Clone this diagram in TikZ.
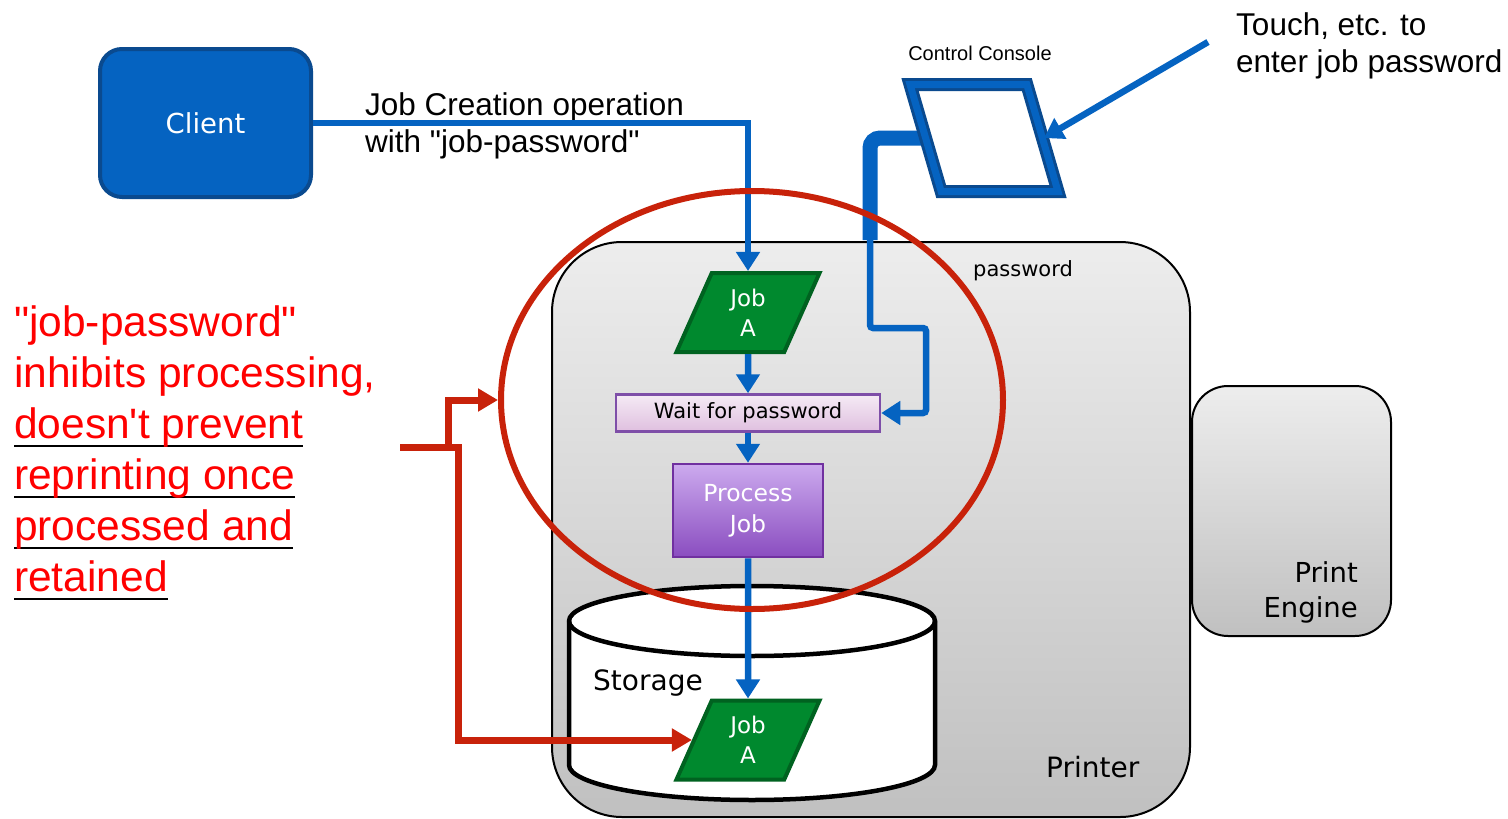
\documentclass[tikz,border=0pt]{standalone}
\usepackage{fontspec}
\usetikzlibrary{arrows.meta,shapes.geometric}
\setmainfont{Liberation Sans}[Ligatures=TeXOff]
\newfontfamily\verd{DejaVu Sans}
\newcommand\verdsize[2]{\verd\fontsize{#1}{#2}\selectfont}
\definecolor{linkblue}{RGB}{5,99,193}
\definecolor{darkblue}{RGB}{10,74,143}
\definecolor{jobgreen}{RGB}{0,137,46}
\definecolor{jobedge}{RGB}{0,98,32}
\definecolor{waitedge}{RGB}{126,78,168}
\definecolor{procedge}{RGB}{112,48,160}
\definecolor{ringred}{RGB}{200,34,10}
\definecolor{greytop}{RGB}{237,237,237}
\definecolor{greybot}{RGB}{192,192,192}
\newcommand\blkul[1]{\setbox0\hbox{#1}\leavevmode\rlap{\color{black}\rule[-9pt]{\wd0}{2.5pt}}\box0}
\begin{document}
\begin{tikzpicture}[x=1pt, y=-1pt,
    bluearrow/.style={draw=linkblue, line width=6.5pt, -{Triangle[length=19pt,width=23pt]}},
    redarrow/.style={draw=ringred, line width=7pt, -{Triangle[length=20pt,width=22pt]}},
    greyblock/.style={draw=black, line width=2pt, rounded corners=#1, top color=greytop, bottom color=greybot},
    clientbox/.style={draw=darkblue, line width=4pt, fill=linkblue, rounded corners=22pt,
        minimum width=211pt, minimum height=148pt, text=white, font=\verdsize{27.5}{33}},
    jobbox/.style={trapezium, trapezium left angle=70, trapezium right angle=110, trapezium stretches=true,
        minimum width=144pt, minimum height=79pt, inner sep=0pt, fill=jobgreen, draw=jobedge, line width=4pt,
        text=white, align=center, font=\verdsize{23}{30}},
    consolebox/.style={trapezium, trapezium left angle=110, trapezium right angle=70, trapezium stretches=true,
        minimum width=148pt, minimum height=107pt, draw=darkblue, double=linkblue, double distance=7pt,
        line width=3pt, fill=white},
    waitbox/.style={draw=waitedge, line width=2.5pt, top color=violet!8, bottom color=violet!25,
        minimum width=264pt, minimum height=37pt, font=\verdsize{21}{25}},
    procbox/.style={draw=procedge, line width=2.5pt, top color={rgb,255:red,204;green,170;blue,238},
        bottom color={rgb,255:red,138;green,77;blue,192}, minimum width=150pt, minimum height=93pt,
        text=white, align=center, font=\verdsize{23.5}{31}},
    labeltext/.style={inner sep=0pt, align=left, font=\fontsize{31.5}{37}\selectfont},
    redtext/.style={inner sep=0pt, align=left, text=red, font=\fontsize{42.5}{51}\selectfont}]
    \fill[white] (0,0) rectangle (1508,819);
    \useasboundingbox (0,0) rectangle (1508,819);

    % printer and engine
    \node[greyblock=70pt, minimum width=638pt, minimum height=575pt] (printer) at (871,529.5) {};
    \node[greyblock=36pt, minimum width=199pt, minimum height=250pt] (engine) at (1291.5,511) {};
    \node[inner sep=0pt, anchor=base west, font=\verdsize{28}{34}] (printerlabel) at (1046,777) {Printer};
    \node[inner sep=0pt, anchor=north east, align=right, font=\verdsize{27.5}{35}] (enginelabel) at (1358,561) {Print\\Engine};
    \node[inner sep=0pt, anchor=base west, font=\verdsize{21}{25}] (pwlabel) at (973,276) {password};

    % storage
    \filldraw[fill=white, line width=4.5pt] (569,621) -- (569,765) arc (180:0:183 and 35)
        -- (935,621) arc (0:-180:183 and 35) -- cycle;
    \draw[line width=4.5pt] (569,621) arc (180:0:183 and 35);
    \node[inner sep=0pt, anchor=base west, font=\verdsize{28}{34}] (storelabel) at (593,690) {Storage};

    % client
    \node[clientbox] (client) at (205.5,123) {Client};
    \node[labeltext, anchor=north west] (jobop) at (365,92) {Job Creation operation\\with "job-password"};

    % job flow
    \node[jobbox] (jobA) at (748,312.5) {Job\\A};
    \node[waitbox] (wait) at (748,413) {Wait for password};
    \node[procbox] (process) at (748,510.5) {Process\\Job};
    \node[jobbox] (jobB) at (748,740) {Job\\A};

    \draw[bluearrow] (client.east) -| (jobA.north);
    \draw[bluearrow] (jobA) -- (wait);
    \draw[bluearrow] (wait) -- (process);
    \draw[bluearrow] (process) -- (jobB);

    % console
    \coordinate (consolein) at (930,138);
    \coordinate (pwin) at (870,240);
    \draw[linkblue, line width=15pt, rounded corners=10pt] (consolein) -| (pwin);
    \node[consolebox] (console) at (984,138) {};
    \node[inner sep=0pt, anchor=base, font=\fontsize{20}{24}\selectfont] (consolelabel) at (980,60) {Control Console};
    \draw[bluearrow, rounded corners=3pt] (pwin) |- (926,328) |- (wait.east);

    \node[labeltext, anchor=north west] (touch) at (1236,12) {Touch, etc. to\\enter job password};
    \coordinate (touchfrom) at (1208,42);
    \draw[bluearrow] (touchfrom) -- (console.east);

    % focus ring and note
    \node[draw=ringred, line width=6pt, ellipse, minimum width=502pt, minimum height=418pt] (focus) at (752,400) {};
    \node[redtext, anchor=north west] (note) at (14,305)
        {"job-password"\\inhibits processing,\\\blkul{doesn't prevent}\\\blkul{reprinting once}\\\blkul{processed and}\\\blkul{retained}};

    \coordinate (redfrom) at (400,447);
    \coordinate (redturn) at (458,740);
    \draw[redarrow] (redfrom) -| (redturn) -- (jobB.west);
    \draw[redarrow] (448,447) |- (focus.west);
\end{tikzpicture}
\end{document}
